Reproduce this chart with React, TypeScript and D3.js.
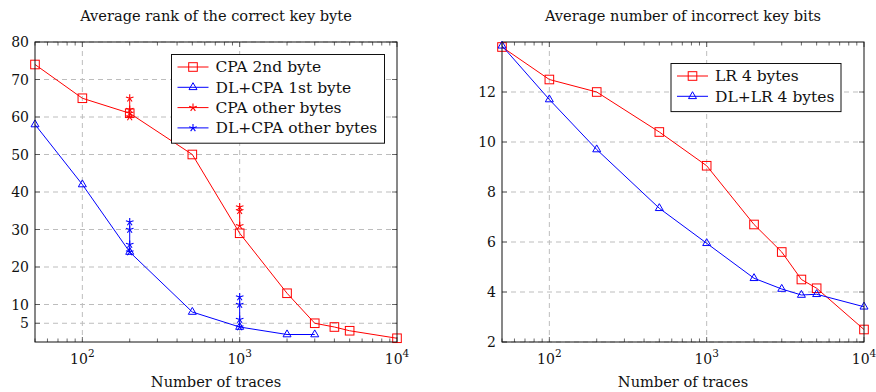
import React, { useEffect, useRef } from 'react'
import * as d3 from 'd3'

// number of traces
const traces = [50, 100, 200, 500, 1000, 2000, 3000, 4000, 5000, 10000]
const dlTraces = [50, 100, 200, 500, 1000, 2000, 3000]

// left plot: average rank of the correct key byte
const cpa2ndByte = [74, 65, 61, 50, 29, 13, 5, 4, 3, 1]
const dlCpa1stByte = [58, 42, 24, 8, 4, 2, 2]
const otherTraces = [200, 1000]
const cpaOtherBytes = [[60, 61, 62, 65], [31, 35, 36]]
const dlCpaOtherBytes = [[24, 26, 30, 32], [4, 6, 10, 12]]

// right plot: average number of incorrect key bits
const lr4Bytes = [13.8, 12.5, 12.0, 10.4, 9.05, 6.7, 5.6, 4.5, 4.15, 2.5]
const dlLr4Bytes = [13.85, 11.7, 9.7, 7.35, 5.95, 4.55, 4.12, 3.88, 3.91, 3.41]

const leftYTicks = [5, 10, 20, 30, 40, 50, 60, 70, 80]
const rightYTicks = [2, 4, 6, 8, 10, 12]
const xMajor = [100, 1000, 10000]

const RED = '#ff0000'
const BLUE = '#0000ff'
const FONT = 'DejaVu Serif'

type G = d3.Selection<SVGGElement, unknown, null, undefined>

const mark = (g: G, kind: string, x: number, y: number, color: string) => {
  if (kind === 'square') {
    g.append('rect').attr('x', x - 4.3).attr('y', y - 4.3).attr('width', 8.6).attr('height', 8.6)
      .attr('fill', 'none').attr('stroke', color).attr('stroke-width', 1)
  } else if (kind === 'triangle') {
    g.append('path').attr('d', `M${x},${y - 4.6}L${x + 4},${y + 2.3}L${x - 4},${y + 2.3}Z`)
      .attr('fill', 'none').attr('stroke', color).attr('stroke-width', 1)
  } else {
    for (let i = 0; i < 5; i++) {
      const a = (Math.PI / 2) + i * (2 * Math.PI / 5)
      g.append('line').attr('x1', x).attr('y1', y)
        .attr('x2', x + 4 * Math.cos(a)).attr('y2', y - 4 * Math.sin(a))
        .attr('stroke', color).attr('stroke-width', 1.1)
    }
  }
}

const drawAxes = (svg: d3.Selection<SVGSVGElement, unknown, null, undefined>, opts: {
  left: number, right: number, top: number, bottom: number,
  yDomain: [number, number], yTicks: number[], title: string
}) => {
  const { left, right, top, bottom } = opts
  const x = d3.scaleLog().domain([50, 10000]).range([left, right])
  const y = d3.scaleLinear().domain(opts.yDomain).range([bottom, top])
  const g = svg.append('g')

  // grid
  const grid = g.append('g').attr('stroke', '#bdbdbd').attr('stroke-dasharray', '5,4').attr('stroke-width', 1)
  opts.yTicks.forEach((t) => {
    grid.append('line').attr('x1', left).attr('x2', right).attr('y1', y(t)).attr('y2', y(t))
  })
  xMajor.slice(0, 2).forEach((t) => {
    grid.append('line').attr('x1', x(t)).attr('x2', x(t)).attr('y1', top).attr('y2', bottom)
  })

  // ticks (inside, on all sides)
  const ticks = g.append('g').attr('stroke', '#444').attr('stroke-width', 0.8)
  x.ticks().forEach((t) => {
    const major = xMajor.includes(t)
    const len = major ? 5 : 3.5
    ticks.append('line').attr('x1', x(t)).attr('x2', x(t)).attr('y1', bottom).attr('y2', bottom - len)
    ticks.append('line').attr('x1', x(t)).attr('x2', x(t)).attr('y1', top).attr('y2', top + len)
  })
  opts.yTicks.forEach((t) => {
    ticks.append('line').attr('x1', left).attr('x2', left + 5).attr('y1', y(t)).attr('y2', y(t))
    ticks.append('line').attr('x1', right).attr('x2', right - 5).attr('y1', y(t)).attr('y2', y(t))
  })

  // tick labels
  xMajor.forEach((t) => {
    const txt = g.append('text').attr('x', x(t)).attr('y', 363.5).attr('text-anchor', 'middle')
      .attr('font-family', FONT).attr('font-size', 14).attr('fill', '#111')
    txt.append('tspan').text('10')
    txt.append('tspan').attr('dy', -6.5).attr('font-size', 10.5).text(String(Math.round(Math.log10(t))))
  })
  opts.yTicks.forEach((t) => {
    g.append('text').attr('x', left - 6).attr('y', y(t)).attr('dy', '0.36em').attr('text-anchor', 'end')
      .attr('font-family', FONT).attr('font-size', 14).attr('fill', '#111').text(String(t))
  })

  // titles
  g.append('text').attr('x', (left + right) / 2).attr('y', 21).attr('text-anchor', 'middle')
    .attr('font-family', FONT).attr('font-size', 14.6).attr('fill', '#111').text(opts.title)
  g.append('text').attr('x', (left + right) / 2).attr('y', 386.5).attr('text-anchor', 'middle')
    .attr('font-family', FONT).attr('font-size', 14.6).attr('fill', '#111').text('Number of traces')

  return { x, y, g }
}

const drawSeries = (g: G, x: d3.ScaleLogarithmic<number, number>, y: d3.ScaleLinear<number, number>,
  xs: number[], ys: number[], color: string, kind: string) => {
  const line = d3.line<number>().x((_, i) => x(xs[i])).y((d) => y(d))
  g.append('path').attr('d', line(ys) || '').attr('fill', 'none').attr('stroke', color).attr('stroke-width', 1)
  ys.forEach((d, i) => mark(g, kind, x(xs[i]), y(d), color))
}

const drawLegend = (g: G, left: number, top: number, width: number, entries: [string, string, string][]) => {
  const rowH = 20.3
  g.append('rect').attr('x', left).attr('y', top).attr('width', width).attr('height', entries.length * rowH + 7.5)
    .attr('fill', 'white').attr('stroke', '#111').attr('stroke-width', 1)
  entries.forEach(([label, color, kind], i) => {
    const cy = top + 12.5 + i * rowH
    g.append('line').attr('x1', left + 6).attr('x2', left + 37).attr('y1', cy).attr('y2', cy)
      .attr('stroke', color).attr('stroke-width', 1)
    mark(g, kind, left + 21.5, cy, color)
    g.append('text').attr('x', left + 44).attr('y', cy).attr('dy', '0.35em')
      .attr('font-family', FONT).attr('font-size', 15.5).attr('fill', '#111').text(label)
  })
}

const App = () => {
  const refSvg = useRef<SVGSVGElement>(null)

  useEffect(() => {
    if (!refSvg.current) return
    const svg = d3.select(refSvg.current)
    svg.selectAll('*').remove()

    // left plot
    const L = drawAxes(svg, {
      left: 35, right: 397, top: 42, bottom: 342,
      yDomain: [0, 80], yTicks: leftYTicks, title: 'Average rank of the correct key byte',
    })
    const lp = L.g.append('g')
    drawSeries(lp, L.x, L.y, traces, cpa2ndByte, RED, 'square')
    drawSeries(lp, L.x, L.y, dlTraces, dlCpa1stByte, BLUE, 'triangle')
    otherTraces.forEach((t, i) => {
      drawSeries(lp, L.x, L.y, cpaOtherBytes[i].map(() => t), cpaOtherBytes[i], RED, 'star')
      drawSeries(lp, L.x, L.y, dlCpaOtherBytes[i].map(() => t), dlCpaOtherBytes[i], BLUE, 'star')
    })
    L.g.append('rect').attr('x', 35).attr('y', 42).attr('width', 362).attr('height', 300)
      .attr('fill', 'none').attr('stroke', '#111').attr('stroke-width', 1)
    drawLegend(L.g, 171.5, 54.5, 213, [
      ['CPA 2nd byte', RED, 'square'],
      ['DL+CPA 1st byte', BLUE, 'triangle'],
      ['CPA other bytes', RED, 'star'],
      ['DL+CPA other bytes', BLUE, 'star'],
    ])

    // right plot
    const R = drawAxes(svg, {
      left: 502, right: 864, top: 42, bottom: 342,
      yDomain: [2, 14], yTicks: rightYTicks, title: 'Average number of incorrect key bits',
    })
    const rp = R.g.append('g')
    drawSeries(rp, R.x, R.y, traces, lr4Bytes, RED, 'square')
    drawSeries(rp, R.x, R.y, traces, dlLr4Bytes, BLUE, 'triangle')
    R.g.append('rect').attr('x', 502).attr('y', 42).attr('width', 362).attr('height', 300)
      .attr('fill', 'none').attr('stroke', '#111').attr('stroke-width', 1)
    drawLegend(R.g, 671, 63.5, 170, [
      ['LR 4 bytes', RED, 'square'],
      ['DL+LR 4 bytes', BLUE, 'triangle'],
    ])
  })

  return (
    <svg ref={refSvg} width={876} height={392}
      style={{ position: 'absolute', left: 0, top: 0, background: 'white' }} />
  )
}

export default App
